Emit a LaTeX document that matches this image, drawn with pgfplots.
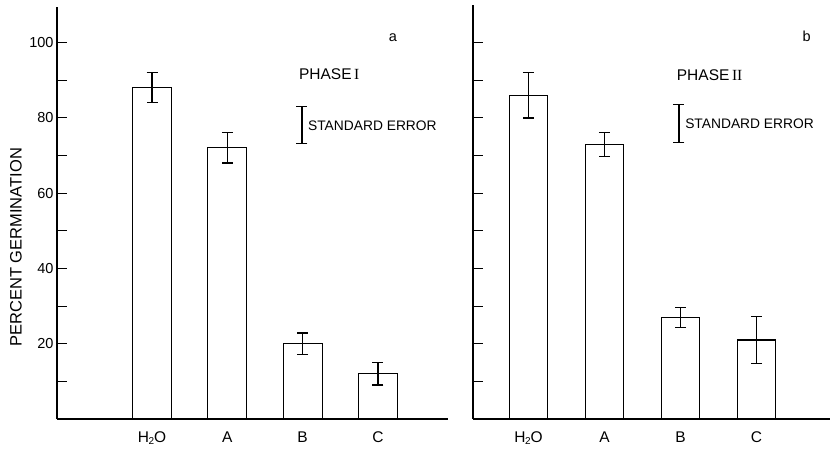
\documentclass[border=0pt]{standalone}
\usepackage{fontspec}
\setmainfont{Liberation Sans}
\newfontfamily\romanfont{Liberation Serif}
\usepackage{pgfplots}
\usepackage{pgfplotstable}
\pgfplotsset{compat=1.18}
\usetikzlibrary{arrows.meta}

% mean percent germination and standard error per treatment
\pgfplotstableread{
x y err
1 88 4
2 72 4
3 20 2.8
4 12 3
}\phaseone
\pgfplotstableread{
x y err
1 86 6
2 73 3.2
3 27 2.6
4 21 6.2
}\phasetwo

\pgfplotsset{
  germ/.style={
    scale only axis,
    anchor=south west,
    enlargelimits=false,
    axis x line=bottom, axis y line=left,
    axis line style={-, line width=1.6pt},
    ymin=0,
    xtick={1,2,3,4},
    xticklabels={H\kern-0.5pt\textsubscript{\fontsize{10}{10}\selectfont 2}\kern-0.5ptO,A,B,C},
    ytick={10,20,...,100},
    tick align=inside,
    major tick length=10pt,
    ytick style={line width=1pt, black},
    xtick style={draw=none},
    /pgf/number format/assume math mode=true,
    yticklabel style={font=\fontsize{14.5}{14.5}\selectfont},
    xticklabel style={font=\fontsize{15.5}{15.5}\selectfont, anchor=base, yshift=-13pt},
    ybar,
  },
  germbar/.style={
    ybar, fill=white, draw=black, line width=1.3pt,
    error bars/.cd, y dir=both, y explicit,
    error bar style={line width=1.3pt},
    error mark options={rotate=90, mark size=5.5pt, line width=1.3pt},
  },
}

\begin{document}
\begin{tikzpicture}
% Phase I
\begin{axis}[germ,
  at={(57pt,29pt)}, width=391pt, height=412pt,
  xmin=-0.262, xmax=4.93, ymax=109.4,
  bar width=39pt,
  yticklabels={,20,,40,,60,,80,,100},
  ylabel={PERCENT GERMINATION},
  every axis y label/.style={at={(axis description cs:-0.105,0.417)}, rotate=90, anchor=center, font=\fontsize{16.5}{16.5}\selectfont},
]
\addplot[germbar] table[x=x, y=y, y error=err]{\phaseone};
\node[anchor=west, font=\fontsize{15.5}{15.5}\selectfont, inner sep=0pt] at (axis cs:2.95,91.6) {PHASE\,{\romanfont I}};
\draw[line width=1.3pt, {Bar[width=11pt]}-{Bar[width=11pt]}] (axis cs:2.99,73) -- (axis cs:2.99,83.1);
\node[anchor=west, font=\fontsize{13.8}{13.8}\selectfont, inner sep=0pt] at (axis cs:3.07,78) {STANDARD ERROR};
\node[font=\fontsize{14.5}{14.5}\selectfont, inner sep=0pt] at (axis cs:4.2,101.2) {a};
\end{axis}
% Phase II
\begin{axis}[germ,
  at={(473pt,29pt)}, width=357pt, height=414pt,
  xmin=0.27, xmax=4.967, ymax=110,
  bar width=38pt,
  yticklabels={},
]
\addplot[germbar] table[x=x, y=y, y error=err]{\phasetwo};
\node[anchor=west, font=\fontsize{15.5}{15.5}\selectfont, inner sep=0pt] at (axis cs:2.95,91.4) {PHASE\,{\romanfont II}};
\draw[line width=1.3pt, {Bar[width=11pt]}-{Bar[width=11pt]}] (axis cs:2.98,73.3) -- (axis cs:2.98,83.7);
\node[anchor=west, font=\fontsize{13.8}{13.8}\selectfont, inner sep=0pt] at (axis cs:3.06,78.5) {STANDARD ERROR};
\node[font=\fontsize{14.5}{14.5}\selectfont, inner sep=0pt] at (axis cs:4.66,101.7) {b};
\end{axis}
\pgfresetboundingbox
\useasboundingbox (0,0) rectangle (830pt,448pt);
\end{tikzpicture}
\end{document}
